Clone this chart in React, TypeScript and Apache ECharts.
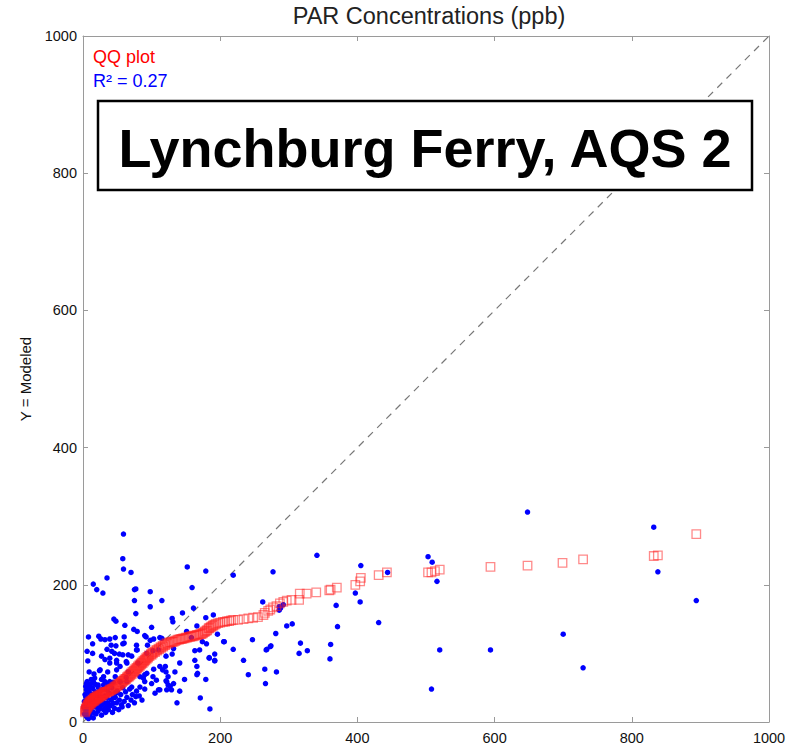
import React, { useEffect, useRef } from "react";
import * as echarts from "echarts";

const TITLE = "PAR Concentrations (ppb)";
const Y_NAME = "Y = Modeled";
const SITE_LABEL = "Lynchburg Ferry, AQS 2";
const QQ_LABEL = "QQ plot";
const R2_LABEL = "R² = 0.27";
const AXIS_TICKS = [0, 200, 400, 600, 800, 1000];
const ONE_TO_ONE: number[][] = [[0, 0], [1000, 1000]];

// Observed (x) vs modeled (y) paired samples
const scatterPoints: number[][] = [
  [59, 274], [58, 238], [59, 223], [70, 218], [35, 210], [15, 201], [20, 193], [29, 188], [75, 193], [77, 194],
  [98, 190], [115, 177], [75, 177], [98, 168], [77, 158], [45, 150], [48, 147], [61, 141], [74, 135], [79, 132],
  [152, 226], [179, 220], [219, 214], [159, 196], [161, 166], [145, 159], [130, 151], [179, 152], [190, 156], [131, 146],
  [151, 132], [166, 140], [158, 123], [170, 105], [163, 90], [184, 94], [192, 90], [196, 128], [205, 117], [219, 106],
  [234, 90], [241, 69], [265, 77], [266, 56], [247, 120], [268, 106], [281, 129], [273, 110], [282, 73], [297, 140],
  [305, 143], [315, 100], [262, 175], [277, 219], [286, 168], [286, 163], [166, 69], [179, 62], [171, 35], [185, 19],
  [137, 28], [141, 45], [132, 56], [124, 66], [120, 81], [112, 81], [103, 77], [93, 71], [88, 64], [83, 51],
  [90, 48], [105, 42], [110, 47], [77, 37], [71, 51], [64, 59], [66, 73], [54, 59], [56, 25], [44, 35],
  [48, 42], [35, 47], [25, 37], [20, 22], [47, 66], [39, 59], [30, 66], [25, 76], [17, 64], [8, 54],
  [10, 42], [13, 30], [4, 37], [5, 47], [6, 59], [14, 49], [22, 51], [30, 54], [35, 35], [64, 86],
  [54, 81], [49, 90], [83, 66], [90, 59], [100, 56], [121, 60], [122, 47], [127, 52],
  [8, 124], [23, 125], [26, 121], [39, 121], [47, 123], [60, 124], [90, 126], [98, 119], [103, 121], [112, 123],
  [14, 114], [60, 115], [48, 111], [42, 103], [35, 106], [6, 103], [27, 96], [39, 93], [58, 98], [71, 96],
  [79, 105], [93, 100], [102, 104], [110, 105], [121, 96], [100, 138], [32, 120], [92, 124], [41, 112], [58, 114],
  [78, 112], [94, 112], [14, 100], [46, 100], [53, 99], [66, 98], [78, 105], [7, 89], [32, 91], [39, 86],
  [49, 86], [63, 88], [80, 86], [9, 73], [24, 75], [36, 73], [49, 76], [63, 65], [90, 69], [102, 66],
  [107, 61], [5, 56], [15, 59], [22, 54], [32, 59], [39, 56],
  [148, 62], [122, 59], [124, 54], [129, 47], [112, 47], [134, 73], [141, 86], [166, 81], [167, 71], [184, 93],
  [192, 99], [192, 89], [206, 117], [163, 104], [180, 114], [174, 117], [132, 107], [130, 99], [115, 122], [116, 76],
  [121, 73],
  [648, 306], [832, 284], [838, 219], [894, 177], [700, 128], [729, 79], [594, 105], [520, 105], [508, 48], [516, 205],
  [509, 233], [503, 241], [444, 218], [431, 145], [405, 228], [397, 188], [404, 175], [341, 243], [369, 170], [371, 139],
  [361, 113], [360, 92], [317, 115], [327, 104], [292, 171], [288, 166], [274, 111], [267, 105],
  [2, 12], [3, 18], [4, 25], [5, 30], [6, 15], [7, 20], [8, 28], [9, 35], [10, 10], [11, 18],
  [12, 24], [13, 40], [14, 33], [15, 14], [16, 22], [17, 28], [18, 44], [19, 12], [20, 30], [21, 38],
  [22, 16], [23, 26], [24, 45], [25, 20], [26, 32], [27, 10], [28, 25], [29, 48], [30, 18], [31, 28],
  [32, 38], [33, 14], [34, 22], [35, 55], [36, 28], [37, 18], [38, 42], [40, 24], [41, 32], [42, 50],
  [43, 14], [44, 27], [46, 20], [47, 36], [49, 28], [50, 45], [52, 18], [53, 32], [55, 40], [57, 22],
  [58, 50], [60, 30], [62, 44], [64, 36], [66, 24], [68, 48], [70, 32], [72, 40], [75, 28], [78, 45],
  [82, 38], [86, 32], [3, 40], [2, 30], [1, 22], [4, 52], [6, 44], [9, 48], [11, 55], [12, 62],
  [18, 55], [16, 70], [27, 62], [44, 58], [5, 8], [15, 6], [8, 5],
];

// Sorted quantile pairs (observed quantile, modeled quantile)
const qqPoints: number[][] = [
  [3, 14], [4, 17], [5, 19], [6, 21], [7, 22], [8, 24], [9, 25], [10, 26], [11, 27], [12, 28],
  [13, 29], [14, 30], [15, 31], [16, 31], [17, 32], [18, 33], [19, 34], [20, 34], [21, 35], [22, 36],
  [23, 36], [24, 37], [25, 38], [26, 38], [27, 39], [28, 40], [29, 40], [30, 41], [32, 42], [33, 43],
  [35, 44], [36, 44], [38, 45], [40, 46], [41, 47], [43, 48], [45, 49], [47, 50], [49, 52], [51, 53],
  [53, 55], [55, 57], [57, 58], [59, 60], [61, 61], [63, 63], [65, 65], [67, 66], [69, 68], [71, 70],
  [73, 72], [75, 74], [77, 76], [79, 78], [81, 80], [83, 82], [85, 84], [87, 86], [89, 88], [91, 90],
  [93, 92], [95, 94], [97, 96], [100, 98], [102, 100], [105, 102], [108, 104], [111, 106], [114, 108], [117, 110],
  [120, 112], [124, 114], [128, 116], [132, 117], [136, 119], [140, 120], [144, 121], [148, 122], [152, 123], [156, 124],
  [160, 125], [164, 126], [168, 127], [172, 128], [175, 130], [178, 132], [181, 134], [184, 137], [187, 139], [190, 141],
  [194, 143], [200, 145], [207, 146], [213, 147], [219, 149], [226, 149], [234, 150], [241, 151], [248, 152], [255, 153],
  [263, 156], [265, 159], [270, 162], [273, 164], [277, 167], [282, 169], [287, 173], [292, 175], [297, 177], [304, 178],
  [315, 178], [316, 187], [326, 187], [340, 189], [359, 192], [361, 193], [370, 196], [397, 200], [404, 205], [405, 210],
  [431, 214], [443, 218], [503, 218], [508, 218], [513, 220], [520, 222], [594, 226], [648, 228], [699, 232], [729, 237],
  [832, 242], [838, 243], [894, 274],
  [3, 16], [4, 19], [5, 21], [6, 23], [7, 25], [8, 26], [9, 28], [10, 29], [11, 30], [12, 30],
  [13, 31], [14, 32], [15, 33], [16, 34], [17, 35], [18, 35], [19, 36], [20, 37], [21, 37], [22, 38],
  [24, 39], [26, 40], [28, 41], [30, 43], [31, 43], [34, 44], [37, 45], [39, 47], [42, 48], [44, 49],
  [46, 51], [48, 52], [50, 54], [52, 55], [54, 56], [56, 58], [58, 60], [60, 62], [62, 63], [64, 65],
  [66, 67], [68, 69], [70, 71], [72, 73], [74, 75], [76, 77], [78, 79], [80, 81], [82, 83], [84, 85],
  [86, 87], [88, 89], [90, 91], [92, 93], [94, 95], [96, 97], [99, 99], [101, 101], [104, 103], [107, 105],
  [110, 107], [113, 109], [116, 111], [119, 113], [122, 115], [126, 116], [130, 117], [134, 118], [138, 120], [142, 121],
  [146, 122], [150, 123], [154, 124], [158, 125], [162, 126], [166, 127], [170, 128], [174, 129], [177, 131], [180, 133],
  [183, 136], [186, 138], [189, 140], [192, 142], [197, 144], [204, 146], [210, 147], [216, 148],
];

const FONT = "'Liberation Sans', Arial, Helvetica, sans-serif";
const AXIS_GRAY = "#9a9a9a";

function makeAxis(kind: "x" | "y", position: string, showLabels: boolean, extra: any = {}) {
  return {
    type: "value",
    position,
    min: AXIS_TICKS[0],
    max: AXIS_TICKS[AXIS_TICKS.length - 1],
    interval: 200,
    axisLine: { show: true, onZero: false, lineStyle: { color: AXIS_GRAY, width: 1 } },
    axisTick: { show: true, inside: true, length: 5, lineStyle: { color: AXIS_GRAY } },
    axisLabel: {
      show: showLabels,
      color: "#111",
      fontSize: 14.5,
      fontFamily: FONT,
      margin: kind === "x" ? 8 : 6,
      formatter: (v: number) => String(v),
    },
    splitLine: { show: false },
    ...extra,
  };
}

export default function App() {
  const ref = useRef<HTMLDivElement>(null);

  useEffect(() => {
    if (!ref.current) return;
    const chart = echarts.init(ref.current, null, { renderer: "svg" });
    chart.setOption({
      animation: false,
      backgroundColor: "#ffffff",
      grid: { left: 83, right: 33, top: 36, bottom: 27 },
      xAxis: [makeAxis("x", "bottom", true), makeAxis("x", "top", false)],
      yAxis: [
        makeAxis("y", "left", true, {
          name: Y_NAME,
          nameLocation: "middle",
          nameGap: 50,
          nameTextStyle: { color: "#111", fontSize: 15, fontFamily: FONT },
        }),
        makeAxis("y", "right", false),
      ],
      graphic: [
        {
          type: "text",
          x: 429,
          y: 16,
          style: {
            text: TITLE,
            fill: "#222",
            font: `23.5px ${FONT}`,
            textAlign: "center",
            textVerticalAlign: "middle",
          },
        },
        {
          type: "text",
          x: 93,
          y: 57,
          z: 10,
          style: { text: QQ_LABEL, fill: "#ff0000", font: `18px ${FONT}`, textVerticalAlign: "middle" },
        },
        {
          type: "text",
          x: 93,
          y: 81,
          z: 10,
          style: { text: R2_LABEL, fill: "#0000ff", font: `18px ${FONT}`, textVerticalAlign: "middle" },
        },
        {
          type: "rect",
          z: 10,
          shape: { x: 98, y: 101, width: 654, height: 89 },
          style: { fill: "#ffffff", stroke: "#000000", lineWidth: 2.5 },
        },
        {
          type: "text",
          z: 11,
          x: 425,
          y: 148,
          style: {
            text: SITE_LABEL,
            fill: "#000000",
            font: `bold 54px ${FONT}`,
            textAlign: "center",
            textVerticalAlign: "middle",
          },
        },
      ],
      series: [
        {
          type: "line",
          data: ONE_TO_ONE,
          showSymbol: false,
          symbol: "none",
          silent: true,
          lineStyle: { color: "#777777", width: 1.2, type: [7, 6] },
          z: 1,
        },
        {
          type: "scatter",
          data: scatterPoints,
          symbol: "circle",
          symbolSize: 5.5,
          itemStyle: { color: "#0000ff", opacity: 1 },
          z: 2,
        },
        {
          type: "scatter",
          data: qqPoints,
          symbol: "rect",
          symbolSize: 8.5,
          itemStyle: { color: "rgba(255,255,255,0)", borderColor: "rgba(255,30,30,0.65)", borderWidth: 1.3 },
          z: 3,
        },
      ],
    });
    return () => chart.dispose();
  }, []);

  return (
    <div
      ref={ref}
      style={{ position: "fixed", left: 0, top: 0, width: 802, height: 749, background: "#fff" }}
    />
  );
}
